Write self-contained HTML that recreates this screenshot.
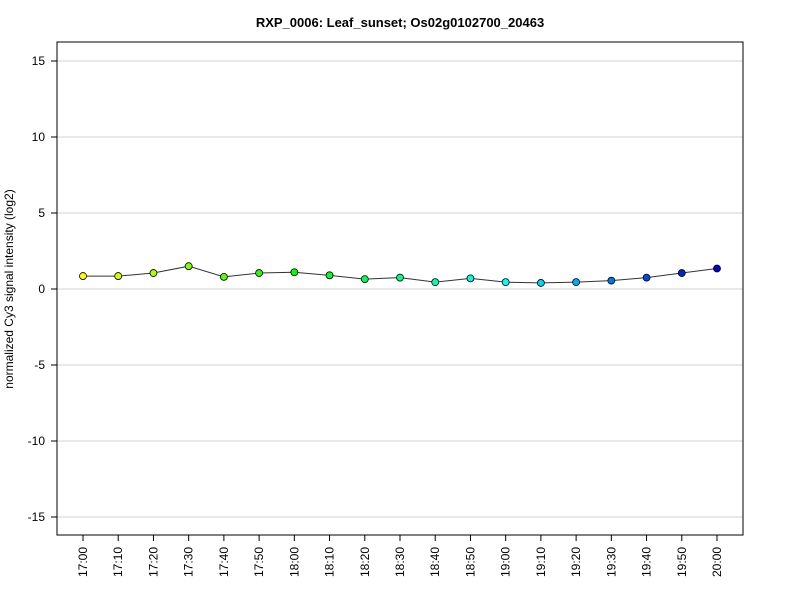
<!DOCTYPE html>
<html><head><meta charset="utf-8"><style>body{margin:0;background:#fff}svg{font-family:"Liberation Sans",Arial,sans-serif}</style></head>
<body>
<svg id="c" width="800" height="600" xmlns="http://www.w3.org/2000/svg"></svg>
<script>
const categories=["17:00","17:10","17:20","17:30","17:40","17:50","18:00","18:10","18:20","18:30","18:40","18:50","19:00","19:10","19:20","19:30","19:40","19:50","20:00"];
const values=[0.85,0.85,1.05,1.5,0.8,1.05,1.1,0.9,0.65,0.75,0.45,0.7,0.45,0.4,0.45,0.55,0.75,1.05,1.35];
const yTicks=[-15,-10,-5,0,5,10,15];
const svg=document.getElementById('c');const NS='http://www.w3.org/2000/svg';
function mk(t,a,p){const e=document.createElementNS(NS,t);for(const k in a)e.setAttribute(k,a[k]);(p||svg).appendChild(e);return e;}
const L=57,R=743,T=42,B=535;
const y=v=>289-v*15.2;
const x=i=>83+i*(717-83)/(categories.length-1);
let t=mk('text',{x:400,y:27,'text-anchor':'middle','font-size':13,'font-weight':'bold'});t.textContent='RXP_0006: Leaf_sunset; Os02g0102700_20463';

yTicks.forEach(v=>{const g=mk('line',{x1:L,x2:R,y1:y(v),y2:y(v),stroke:'#d3d3d3'});
mk('line',{x1:L-6,x2:L,y1:y(v),y2:y(v),stroke:'#000'});
const tx=mk('text',{x:L-12,y:y(v)+4,'text-anchor':'end','font-size':12});tx.textContent=v;});
const fr=mk('rect',{x:L,y:T,width:R-L,height:B-T,fill:'none',stroke:'#000'});
const yt=mk('text',{transform:'translate(13,289) rotate(-90)','text-anchor':'middle','font-size':12});yt.textContent='normalized Cy3 signal intensity (log2)';
categories.forEach((c,i)=>{mk('line',{x1:x(i),x2:x(i),y1:B,y2:B+6,stroke:'#000'});
const tx=mk('text',{transform:`translate(${x(i)+4},${B+12}) rotate(-90)`,'text-anchor':'end','font-size':12});tx.textContent=c;});
const ln=mk('polyline',{points:values.map((v,i)=>x(i)+','+y(v)).join(' '),fill:'none',stroke:'#333'});
values.forEach((v,i)=>{const h=60+180*i/(values.length-1);const c=mk('circle',{cx:x(i),cy:y(v),r:3.5,fill:`hsl(${h},100%,${i>14?40+ (18-i)*2:50}%)`,stroke:'#000','stroke-width':0.8});});
</script>
</body></html>
